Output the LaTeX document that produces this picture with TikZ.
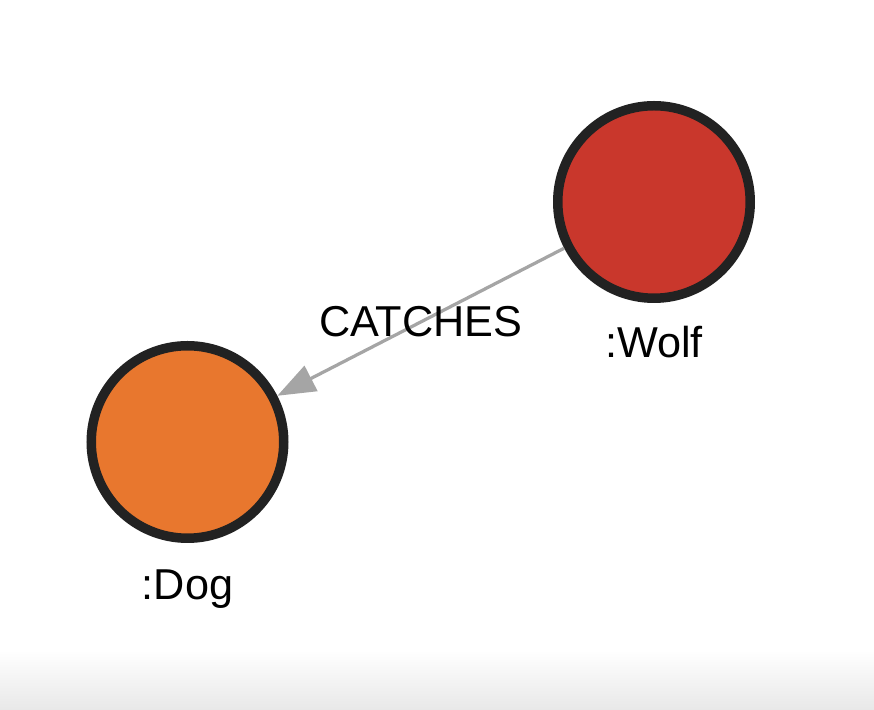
\documentclass[tikz,border=0pt]{standalone}
\usepackage{fontspec}
\setmainfont{Liberation Sans}
\usepackage{tikz}
\usetikzlibrary{arrows.meta,positioning}

\definecolor{wolfred}{HTML}{C9372C}
\definecolor{dogorange}{HTML}{E8772E}
\definecolor{ringdark}{HTML}{222222}
\definecolor{relgray}{HTML}{A5A5A5}
\definecolor{barfade}{HTML}{E8E8E8}

\begin{document}
\begin{tikzpicture}[>={Triangle[length=0.76cm,width=0.56cm]},
	graphnode/.style={circle, draw=ringdark, line width=0.19cm, minimum size=3.85cm, inner sep=0pt},
	caption/.style={inner sep=0pt, anchor=north, font=\fontsize{24.6}{28}\selectfont}]
			\useasboundingbox (0,0) rectangle (17.48,14.2);
			\shade[top color=white, bottom color=barfade] (0,0) rectangle (17.48,1.2);
			\node[graphnode, fill=wolfred] (wolf) at (13.08,10.16) {};
			\node[graphnode, fill=dogorange] (dog) at (3.75,5.36) {};
			\node[caption, below=0.46cm of wolf] (wolflabel) {:Wolf};
			\node[caption, below=0.52cm of dog] (doglabel) {:Dog};
			\draw[->, relgray, line width=0.065cm] (wolf) -- node[midway, text=black, font=\fontsize{24.6}{28}\selectfont]{CATCHES} (dog);
		\end{tikzpicture}
\end{document}
